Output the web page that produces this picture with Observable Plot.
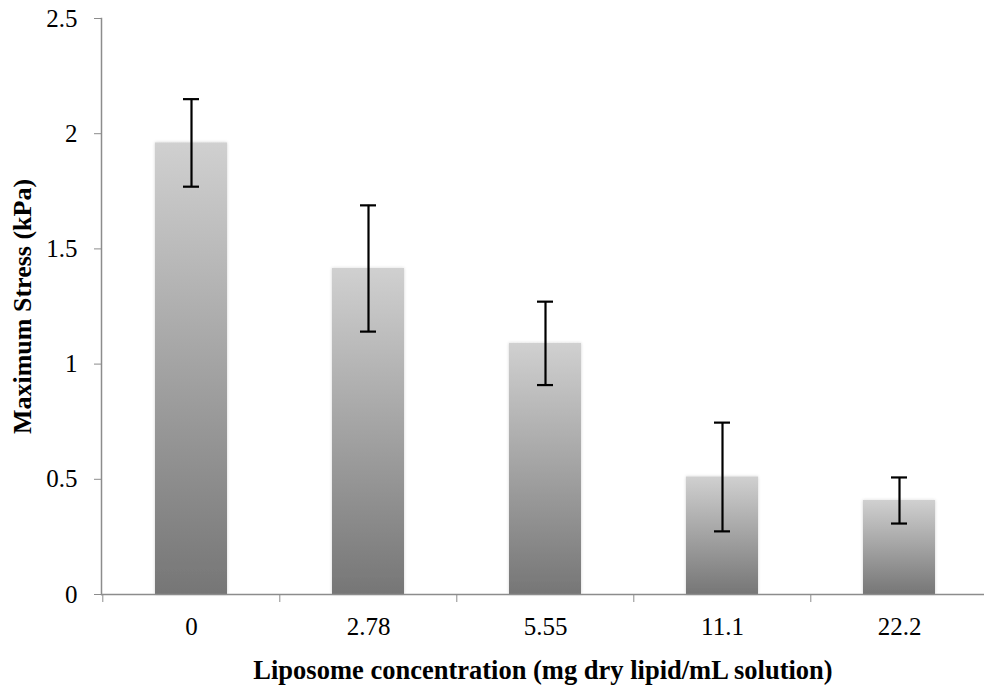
<!DOCTYPE html>
<html><head><meta charset="utf-8">
<script src="https://cdn.jsdelivr.net/npm/d3@7"></script>
<script src="https://cdn.jsdelivr.net/npm/@observablehq/plot@0.6"></script>
<style>
body{margin:0;background:#fff;}
</style>
</head><body><div id="chart"></div>
<script>
const categories = ["0", "2.78", "5.55", "11.1", "22.2"];
const means = [1.96, 1.415, 1.09, 0.51, 0.408];
const errors = [0.19, 0.274, 0.181, 0.236, 0.10];
const yTicks = [0, 0.5, 1, 1.5, 2, 2.5];

const data = categories.map((c, i) => ({c, v: means[i], lo: means[i] - errors[i], hi: means[i] + errors[i]}));

const serif = "Liberation Serif";
const xRange = [101, 988];
const step = (xRange[1] - xRange[0]) / categories.length;
const axisColor = "#8c8c8c";

const chart = Plot.plot({
  width: 984,
  height: 685,
  marginTop: 18,
  marginBottom: 91,
  marginLeft: 101,
  marginRight: 0,
  style: {background: "#fff", overflow: "visible", fontFamily: serif},
  x: {type: "band", domain: categories, range: xRange, paddingInner: 0.594, paddingOuter: 0.297},
  y: {domain: [0, 2.5], ticks: yTicks},
  marks: [
    Plot.barY(data, {x: "c", y: "v", fill: "url(#barGrad)"}),
    Plot.ruleX(data, {x: "c", y1: "lo", y2: "hi", stroke: "#000", strokeWidth: 2.2}),
    Plot.tickY(data, {x: "c", y: "lo", stroke: "#000", strokeWidth: 2.2, insetLeft: 28, insetRight: 28}),
    Plot.tickY(data, {x: "c", y: "hi", stroke: "#000", strokeWidth: 2.2, insetLeft: 28, insetRight: 28}),
    Plot.ruleY([0], {stroke: axisColor, strokeWidth: 1.5}),
    Plot.frame({anchor: "left", stroke: axisColor, strokeWidth: 1.5}),
    Plot.axisY({ticks: yTicks, tickSize: 7, tickPadding: 17, stroke: axisColor, fill: "#000", fontSize: 25, label: null, tickFormat: d => String(d)}),
    Plot.axisX({tickSize: 8, dx: -step / 2, stroke: axisColor, tickFormat: () => "", label: null}),
    Plot.axisX({tickSize: 0, tickPadding: 23, fontSize: 25, fill: "#000", label: null}),
    Plot.text(["Liposome concentration (mg dry lipid/mL solution)"], {frameAnchor: "bottom", textAnchor: "middle", lineAnchor: "middle", dy: 76, fontSize: 26.5, fontWeight: "bold", fill: "#000"}),
    Plot.text(["Maximum Stress (kPa)"], {frameAnchor: "left", textAnchor: "middle", lineAnchor: "middle", dx: -79, rotate: -90, fontSize: 26, fontWeight: "bold", fill: "#000"})
  ]
});

const svg = d3.select(chart);
const defs = svg.insert("defs", ":first-child");
const g = defs.append("linearGradient").attr("id", "barGrad").attr("x1", 0).attr("y1", 0).attr("x2", 0).attr("y2", 1);
g.append("stop").attr("offset", "0%").attr("stop-color", "#d0d0d0");
g.append("stop").attr("offset", "100%").attr("stop-color", "#767676");
const f = defs.append("filter").attr("id", "barShadow").attr("x", "-10%").attr("y", "-5%").attr("width", "120%").attr("height", "110%");
f.append("feDropShadow").attr("dx", 0).attr("dy", 0).attr("stdDeviation", 1.5).attr("flood-color", "#000").attr("flood-opacity", 0.18);
svg.selectAll("rect").filter(function(){ return this.getAttribute("fill") === "url(#barGrad)" || (this.parentNode && this.parentNode.getAttribute("fill") === "url(#barGrad)"); }).attr("filter", "url(#barShadow)");
svg.selectAll("g,text").attr("font-family", serif);

document.getElementById("chart").appendChild(chart);
</script>
</body></html>
